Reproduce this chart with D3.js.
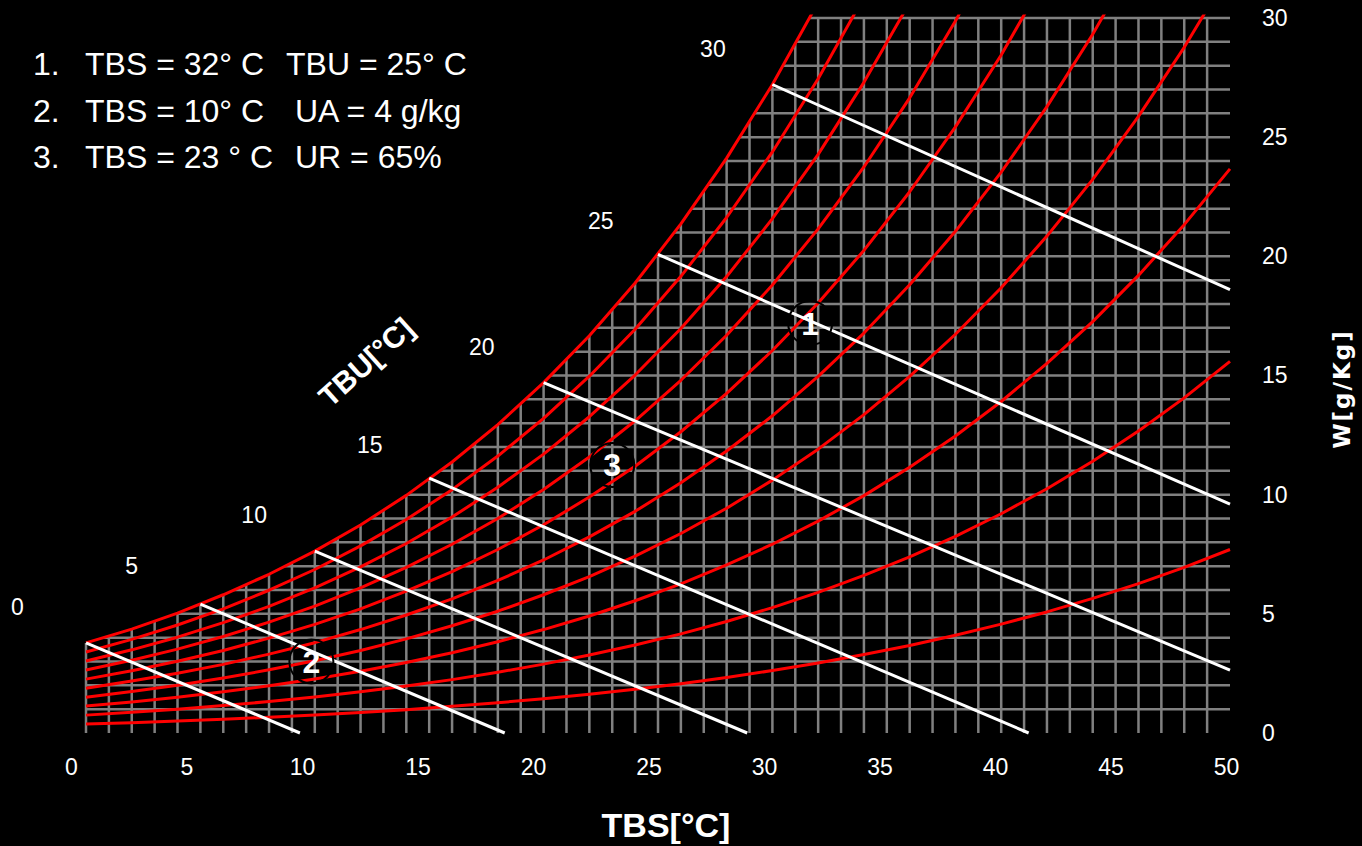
<!DOCTYPE html>
<html>
<head>
<meta charset="utf-8">
<script src="https://cdn.jsdelivr.net/npm/d3@7"></script>
<style>
  html, body { margin: 0; padding: 0; background: #000; }
  svg { display: block; background: #000; }
  text { font-family: "Liberation Sans", Arial, sans-serif; fill: #fff; }
</style>
</head>
<body>
<svg width="1362" height="846"></svg>
<script>
// dry bulb temperature (°C) of the points read on each RH curve
const temps = [0, 2, 4, 6, 8, 10, 12, 14, 16, 18, 20, 22, 24, 26, 28, 30, 32, 34, 36, 38, 40, 42, 44, 46, 48, 50];

// humidity ratio W (g/kg) for each relative humidity curve
const rh100 = [3.78, 4.36, 5.03, 5.80, 6.66, 7.63, 8.73, 9.97, 11.37, 12.94, 14.70, 16.67, 18.88, 21.36, 24.12, 27.21, 30.66];
const rh90 = [3.40, 3.93, 4.53, 5.21, 5.99, 6.86, 7.85, 8.96, 10.21, 11.62, 13.20, 14.97, 16.94, 19.16, 21.63, 24.38, 27.45, 30.88];
const rh80 = [3.02, 3.49, 4.02, 4.63, 5.31, 6.09, 6.97, 7.95, 9.06, 10.31, 11.70, 13.27, 15.02, 16.97, 19.15, 21.58, 24.28, 27.30, 30.65];
const rh70 = [2.64, 3.05, 3.52, 4.05, 4.65, 5.32, 6.09, 6.95, 7.92, 9.00, 10.22, 11.58, 13.10, 14.80, 16.69, 18.80, 21.15, 23.75, 26.65, 29.87, 33.45];
const rh60 = [2.26, 2.61, 3.01, 3.46, 3.98, 4.56, 5.21, 5.95, 6.77, 7.70, 8.74, 9.90, 11.19, 12.64, 14.25, 16.05, 18.04, 20.25, 22.71, 25.43, 28.45, 31.80];
const rh50 = [1.88, 2.18, 2.51, 2.88, 3.31, 3.79, 4.34, 4.95, 5.63, 6.40, 7.26, 8.23, 9.30, 10.50, 11.83, 13.31, 14.96, 16.78, 18.81, 21.05, 23.53, 26.28, 29.32, 32.67];
const rh40 = [1.50, 1.74, 2.00, 2.31, 2.65, 3.03, 3.46, 3.95, 4.50, 5.11, 5.80, 6.56, 7.42, 8.37, 9.43, 10.61, 11.91, 13.36, 14.96, 16.73, 18.68, 20.85, 23.23, 25.87, 28.77, 31.97];
const rh30 = [1.13, 1.30, 1.50, 1.73, 1.98, 2.27, 2.59, 2.96, 3.37, 3.83, 4.34, 4.91, 5.55, 6.26, 7.05, 7.92, 8.89, 9.96, 11.15, 12.46, 13.91, 15.51, 17.26, 19.20, 21.33, 23.67];
const rh20 = [0.75, 0.87, 1.00, 1.15, 1.32, 1.51, 1.73, 1.97, 2.24, 2.55, 2.89, 3.27, 3.69, 4.16, 4.68, 5.26, 5.90, 6.61, 7.39, 8.25, 9.20, 10.25, 11.40, 12.67, 14.06, 15.59];
const rh10 = [0.38, 0.43, 0.50, 0.58, 0.66, 0.76, 0.86, 0.98, 1.12, 1.27, 1.44, 1.63, 1.84, 2.07, 2.33, 2.62, 2.94, 3.29, 3.67, 4.10, 4.57, 5.08, 5.65, 6.27, 6.95, 7.70];
const rhCurves = [rh100, rh90, rh80, rh70, rh60, rh50, rh40, rh30, rh20, rh10];

// wet bulb lines (TBU): start on saturation, end on W = 0 or on TBS = 50
const wetBulb = [0, 5, 10, 15, 20, 25, 30];
const wetBulbStart = [[0, 3.78], [5, 5.41], [10, 7.63], [15, 10.69], [20, 14.70], [25, 20.08], [30, 27.21]];
const wetBulbEnd = [[9.35, 0], [18.3, 0], [28.9, 0], [41.2, 0], [50, 2.64], [50, 9.6], [50, 18.6]];
const wetBulbLabelAt = [[-3.0, 5.3], [2.0, 7.0], [7.35, 9.15], [12.4, 12.1], [17.3, 16.2], [22.5, 21.5], [27.4, 28.7]];

// axis ticks
const xTicks = [0, 5, 10, 15, 20, 25, 30, 35, 40, 45, 50];
const yTicks = [0, 5, 10, 15, 20, 25, 30];

// marked states
const states = ["1", "2", "3"];
const statesAt = [[31.65, 17.2], [9.85, 3.0], [23.0, 11.25]];

// exercise text
const caseNums = ["1.", "2.", "3."];
const caseTBS = ["TBS = 32° C", "TBS = 10° C", "TBS = 23 ° C"];
const caseOther = ["TBU = 25° C", "UA = 4 g/kg", "UR = 65%"];

const svg = d3.select("svg");

// scales: chart area and the (slightly shifted) tick label row
const x = d3.scaleLinear().domain([0, 50]).range([86, 1230]);
const y = d3.scaleLinear().domain([0, 30]).range([733, 18]);
const xLabel = d3.scaleLinear().domain([0, 50]).range([71, 1226]);

// grid is only drawn below the saturation curve
const sat = rh100.map((w, i) => [temps[i], w]);
const clipPts = [[x(0) - 3, y(sat[0][1])]]
    .concat(sat.map((d) => [x(d[0]), y(d[1])]))
    .concat([
        [x(50) + 5, y(sat[sat.length - 1][1])],
        [x(50) + 5, y(0) + 3],
        [x(0) - 3, y(0) + 3],
    ]);

const defs = svg.append("defs");
defs.append("clipPath").attr("id", "satClip")
    .append("polygon")
    .attr("points", clipPts.map((p) => p.join(",")).join(" "));
defs.append("clipPath").attr("id", "topClip")
    .append("rect")
    .attr("x", x(0) - 5)
    .attr("y", y(30.15))
    .attr("width", x(50) - x(0) + 10)
    .attr("height", y(0) - y(30.15) + 5);

// grid
const grid = svg.append("g").attr("clip-path", "url(#satClip)")
    .attr("stroke", "#808080").attr("stroke-width", 2.5);
grid.selectAll("line.v")
    .data(d3.range(0, 50))
    .join("line")
    .attr("class", "v")
    .attr("x1", (d) => x(d)).attr("x2", (d) => x(d))
    .attr("y1", y(0)).attr("y2", y(30));
grid.selectAll("line.h")
    .data(d3.range(1, 31))
    .join("line")
    .attr("class", "h")
    .attr("x1", x(0)).attr("x2", x(50))
    .attr("y1", (d) => y(d)).attr("y2", (d) => y(d));

// relative humidity curves
const line = d3.line().x((d) => x(d[0])).y((d) => y(d[1]));
svg.append("g").attr("clip-path", "url(#topClip)")
    .selectAll("path")
    .data(rhCurves.map((c) => c.map((w, i) => [temps[i], w])))
    .join("path")
    .attr("d", line)
    .attr("fill", "none")
    .attr("stroke", "#ff0000")
    .attr("stroke-width", 3)
    .attr("stroke-linejoin", "round");

// wet bulb lines
svg.append("g")
    .selectAll("line")
    .data(wetBulb)
    .join("line")
    .attr("x1", (d, i) => x(wetBulbStart[i][0]))
    .attr("y1", (d, i) => y(wetBulbStart[i][1]))
    .attr("x2", (d, i) => x(wetBulbEnd[i][0]))
    .attr("y2", (d, i) => y(wetBulbEnd[i][1]))
    .attr("stroke", "#fff")
    .attr("stroke-width", 3);

// wet bulb labels
svg.append("g")
    .selectAll("text")
    .data(wetBulb)
    .join("text")
    .attr("x", (d, i) => x(wetBulbLabelAt[i][0]))
    .attr("y", (d, i) => y(wetBulbLabelAt[i][1]))
    .attr("dy", "0.35em")
    .attr("text-anchor", "middle")
    .style("font-size", "23px")
    .text((d) => d);

// state markers
const mark = svg.append("g")
    .selectAll("g")
    .data(states)
    .join("g")
    .attr("transform", (d, i) => `translate(${x(statesAt[i][0])},${y(statesAt[i][1])})`);
mark.append("circle")
    .attr("r", 22)
    .attr("fill", "none")
    .attr("stroke", "#000")
    .attr("stroke-width", 2);
mark.append("text")
    .attr("text-anchor", "middle")
    .attr("dy", "0.36em")
    .style("font-size", "32px")
    .style("font-weight", "bold")
    .text((d) => d);

// x axis
const xAxis = svg.append("g")
    .attr("transform", "translate(0,767)")
    .call(d3.axisBottom(xLabel).tickValues(xTicks).tickSize(0).tickPadding(0));
xAxis.select(".domain").remove();
xAxis.selectAll("text").attr("y", 0).attr("dy", "0.35em").style("font-size", "23px");

// y axis
const yAxis = svg.append("g")
    .attr("transform", "translate(1262,0)")
    .call(d3.axisRight(y).tickValues(yTicks).tickSize(0).tickPadding(0));
yAxis.select(".domain").remove();
yAxis.selectAll("text").style("font-size", "23px");

// axis titles
svg.append("text")
    .attr("x", 666).attr("y", 837)
    .attr("text-anchor", "middle")
    .style("font-size", "34px").style("font-weight", "bold")
    .text("TBS[°C]");

svg.append("text")
    .attr("transform", "translate(1350,389) rotate(-90)")
    .attr("text-anchor", "middle")
    .style("font-family", "'DejaVu Sans', Verdana, sans-serif")
    .style("font-size", "23px").style("font-weight", "bold")
    .style("letter-spacing", "2px")
    .text("W[g/Kg]");

svg.append("text")
    .attr("transform", "translate(366,362) rotate(-42)")
    .attr("text-anchor", "middle")
    .attr("dy", "0.35em")
    .style("font-size", "30px").style("font-weight", "bold")
    .text("TBU[°C]");

// exercise list
const list = svg.append("g")
    .selectAll("g")
    .data(caseNums)
    .join("g")
    .attr("transform", (d, i) => `translate(0,${75 + i * 46.5})`)
    .style("font-size", "32px");
list.append("text").attr("x", 33).text((d) => d);
list.append("text").attr("x", 85).text((d, i) => caseTBS[i]);
list.append("text").attr("x", (d, i) => (i === 0 ? 286 : 295)).text((d, i) => caseOther[i]);
</script>
</body>
</html>
